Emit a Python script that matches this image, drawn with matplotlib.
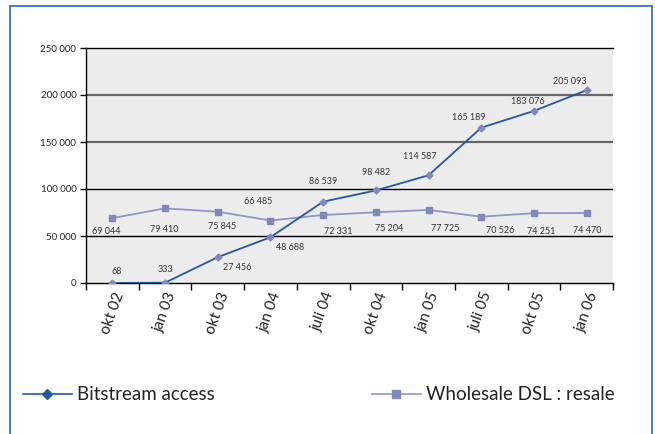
import matplotlib
matplotlib.use("Agg")
import matplotlib.pyplot as plt
from matplotlib.lines import Line2D
from matplotlib.patches import Rectangle

plt.rcParams['font.family'] = ['Lato', 'DejaVu Sans']

# data
periods = ['okt 02', 'jan 03', 'okt 03', 'jan 04', 'juli 04',
           'okt 04', 'jan 05', 'juli 05', 'okt 05', 'jan 06']
bitstream = [68, 333, 27456, 48688, 86539, 98482, 114587, 165189, 183076, 205093]
wholesale = [69044, 79410, 75845, 66485, 72331, 75204, 77725, 70526, 74251, 74470]
yticks = [0, 50000, 100000, 150000, 200000, 250000]

# label offsets in pixels (dx, dy)
bit_offsets = [(4, 11), (0, 13), (19, -10), (20, -10), (0, 20),
               (0, 18), (-9, 19), (-13, 10), (-6, 9), (-17, 9)]
whs_offsets = [(-6, -13), (-1, -21), (4, -15), (-12, 19), (15, -16),
               (13, -16), (17, -19), (19, -14), (7, -18), (1, -18)]

dark = '#2458a0'
light = '#8f97c9'
mark = '#8088c0'


def fmt(v):
    return f"{v:,}".replace(',', ' ')


fig = plt.figure(figsize=(6.55, 4.34), dpi=100)
ax = fig.add_axes([86 / 655, 1 - 283 / 434, 527 / 655, 235 / 434])
ax.set_facecolor('#ececec')

x = list(range(len(periods)))
ax.plot(x, wholesale, color=light, lw=1.3, marker='s', ms=5,
        mfc=mark, mec=mark, zorder=3)
ax.plot(x, bitstream, color=dark, lw=1.3, marker='D', ms=3.5,
        mfc=mark, mec=mark, zorder=4)

for i, v in enumerate(bitstream):
    dx, dy = bit_offsets[i]
    ax.annotate(fmt(v), (i, v), xytext=(dx, dy), textcoords='offset pixels',
                ha='center', va='center', fontsize=6.5, color='#333333')
for i, v in enumerate(wholesale):
    dx, dy = whs_offsets[i]
    ax.annotate(fmt(v), (i, v), xytext=(dx, dy), textcoords='offset pixels',
                ha='center', va='center', fontsize=6.5, color='#333333')

ax.set_xlim(-0.5, len(periods) - 0.5)
ax.set_ylim(0, 250000)
ax.set_yticks(yticks)
ax.set_yticklabels([fmt(t) for t in yticks], fontsize=7, color='#222222')

# gridlines
for t in yticks[1:-1]:
    if t >= 150000:
        ax.axhline(t, color='#666666', lw=1.6, zorder=1)
    else:
        ax.axhline(t, color='black', lw=1.0, zorder=1)

ax.set_xticks([i - 0.5 for i in range(len(periods) + 1)])
ax.set_xticklabels([])
ax.set_xticks(x, minor=True)
ax.set_xticklabels(periods, minor=True, rotation=70, fontsize=11,
                   ha='center', va='top', color='#222222')
ax.tick_params(axis='x', which='minor', length=0, pad=5)
ax.tick_params(axis='x', which='major', length=5, width=1, color='black')
ax.tick_params(axis='y', length=4, width=1, pad=3)

ax.spines['right'].set_visible(False)
for s in ['left', 'bottom', 'top']:
    ax.spines[s].set_color('black')
    ax.spines[s].set_linewidth(1.0)

# legends
h1 = Line2D([], [], color=dark, lw=1.2, marker='D', ms=5, mfc=dark, mec=dark)
h2 = Line2D([], [], color=light, lw=1.2, marker='s', ms=6, mfc=mark, mec=mark)
leg1 = fig.legend([h1], ['Bitstream access'], loc='center left',
                  bbox_to_anchor=(23 / 655, 1 - 395 / 434), frameon=False,
                  fontsize=13.5, handlelength=2.6, handletextpad=0.3,
                  borderpad=0, borderaxespad=0)
leg2 = fig.legend([h2], ['Wholesale DSL : resale'], loc='center left',
                  bbox_to_anchor=(372 / 655, 1 - 395 / 434), frameon=False,
                  fontsize=13.5, handlelength=2.6, handletextpad=0.3,
                  borderpad=0, borderaxespad=0)
for leg in (leg1, leg2):
    for t in leg.get_texts():
        t.set_color('#222222')

# outer frame
fig.patches.append(Rectangle((10 / 655, -0.1), 642 / 655, 1.1 - 6 / 434,
                             transform=fig.transFigure, fill=False,
                             edgecolor='#3f72c0', lw=1.3))

fig.savefig('out.png', dpi=100)
